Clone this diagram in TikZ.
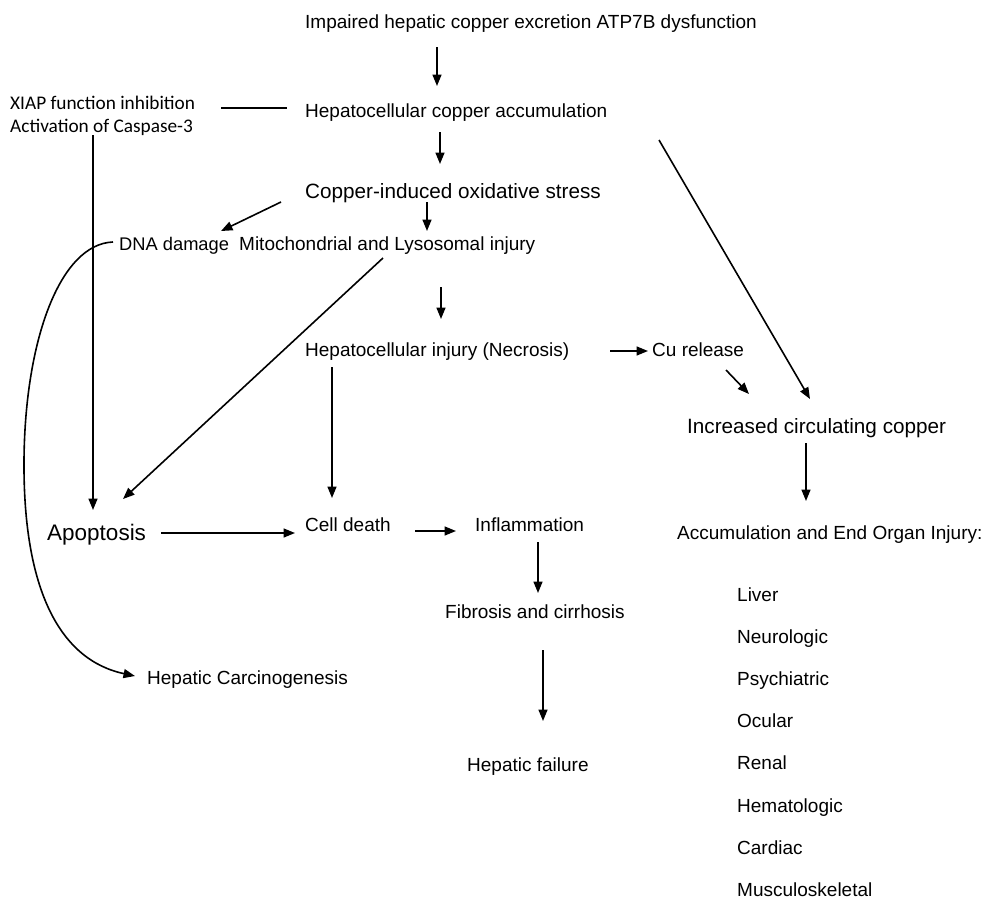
\documentclass[tikz,border=0pt]{standalone}
\usepackage{fontspec}
\setmainfont{Liberation Sans}
\newfontfamily\calibfont{Carlito}
\usetikzlibrary{arrows.meta}
\begin{document}
\begin{tikzpicture}[x=1pt,y=-1pt,
  txt/.style={anchor=base west,inner sep=0pt,font=\fontsize{19}{22}\selectfont},
  big/.style={anchor=base west,inner sep=0pt,font=\fontsize{20.7}{24}\selectfont},
  huge/.style={anchor=base west,inner sep=0pt,font=\fontsize{22.5}{26}\selectfont},
  cal/.style={anchor=base west,inner sep=0pt,font=\calibfont\fontsize{19.3}{22}\selectfont},
  arr/.style={-{Triangle[length=11.5pt,width=9pt]},line width=1.6pt},
  ln/.style={line width=1.6pt}]
\useasboundingbox (0,0) rectangle (983,900);
% texts
\node[txt] (t1) at (305,28) {Impaired hepatic copper excretion ATP7B dysfunction};
\node[txt] (t2) at (305,117) {Hepatocellular copper accumulation};
\node[cal] (x1) at (10,109) {XIAP function inhibition};
\node[cal] (x2) at (10,132) {Activation of Caspase-3};
\node[big] (t3) at (305,198) {Copper-induced oxidative stress};
\node[txt,font=\fontsize{18.3}{22}\selectfont] (dna) at (119,250) {DNA damage};
\node[txt] (mito) at (239,250) {Mitochondrial and Lysosomal injury};
\node[txt] (t4) at (305,356) {Hepatocellular injury (Necrosis)};
\node[txt] (cu) at (652,356) {Cu release};
\node[big] (t5) at (687,433) {Increased circulating copper};
\node[txt] (acc) at (677,539) {Accumulation and End Organ Injury:};
\node[huge] (apo) at (47,540) {Apoptosis};
\node[txt] (cd) at (305,531) {Cell death};
\node[txt] (inf) at (475,531) {Inflammation};
\node[txt] (fib) at (445,618) {Fibrosis and cirrhosis};
\node[txt] (hf) at (467,771) {Hepatic failure};
\node[txt] (hc) at (147,684) {Hepatic Carcinogenesis};
\node[txt] (o1) at (737,601) {Liver};
\node[txt] (o2) at (737,643) {Neurologic};
\node[txt] (o3) at (737,685) {Psychiatric};
\node[txt] (o4) at (737,727) {Ocular};
\node[txt] (o5) at (737,769) {Renal};
\node[txt] (o6) at (737,812) {Hematologic};
\node[txt] (o7) at (737,854) {Cardiac};
\node[txt] (o8) at (737,896) {Musculoskeletal};
% connector ends
\coordinate (a1s) at (437,47);  \coordinate (a1e) at (437,86);
\coordinate (a2s) at (440,132); \coordinate (a2e) at (440,164);
\coordinate (xls) at (221,108); \coordinate (xle) at (287,108);
\coordinate (vls) at (93,135);  \coordinate (vle) at (93,510);
\coordinate (dns) at (281,202); \coordinate (dne) at (221,231);
\coordinate (mis) at (427,202); \coordinate (mie) at (427,231);
\coordinate (cvs) at (113,242); \coordinate (cvm) at (24,460); \coordinate (cve) at (135,676);
\coordinate (a3s) at (441,287); \coordinate (a3e) at (441,319);
\coordinate (dgs) at (383,258); \coordinate (dge) at (123,499);
\coordinate (ncs) at (610,351); \coordinate (nce) at (648,351);
\coordinate (crs) at (726,370); \coordinate (cre) at (749,394);
\coordinate (rds) at (659,140); \coordinate (rde) at (810,399);
\coordinate (ics) at (806,443); \coordinate (ice) at (806,501);
\coordinate (nds) at (332,367); \coordinate (nde) at (332,498);
\coordinate (aps) at (161,533); \coordinate (ape) at (295,533);
\coordinate (cds) at (415,531); \coordinate (cde) at (456,531);
\coordinate (ifs) at (538,542); \coordinate (ife) at (538,593);
\coordinate (fbs) at (543,650); \coordinate (fbe) at (543,721);
% connectors
\draw[arr] (a1s) -- (a1e);
\draw[arr] (a2s) -- (a2e);
\draw[ln] (xls) -- (xle);
\draw[arr] (vls) -- (vle);
\draw[arr] (dns) -- (dne);
\draw[arr] (mis) -- (mie);
\draw[arr] (cvs) .. controls (60,244) and (25,340) .. (cvm) .. controls (23,590) and (60,660) .. (cve);
\draw[arr] (a3s) -- (a3e);
\draw[arr] (dgs) -- (dge);
\draw[arr] (ncs) -- (nce);
\draw[arr] (crs) -- (cre);
\draw[arr] (rds) -- (rde);
\draw[arr] (ics) -- (ice);
\draw[arr] (nds) -- (nde);
\draw[arr] (aps) -- (ape);
\draw[arr] (cds) -- (cde);
\draw[arr] (ifs) -- (ife);
\draw[arr] (fbs) -- (fbe);
\end{tikzpicture}
\end{document}
